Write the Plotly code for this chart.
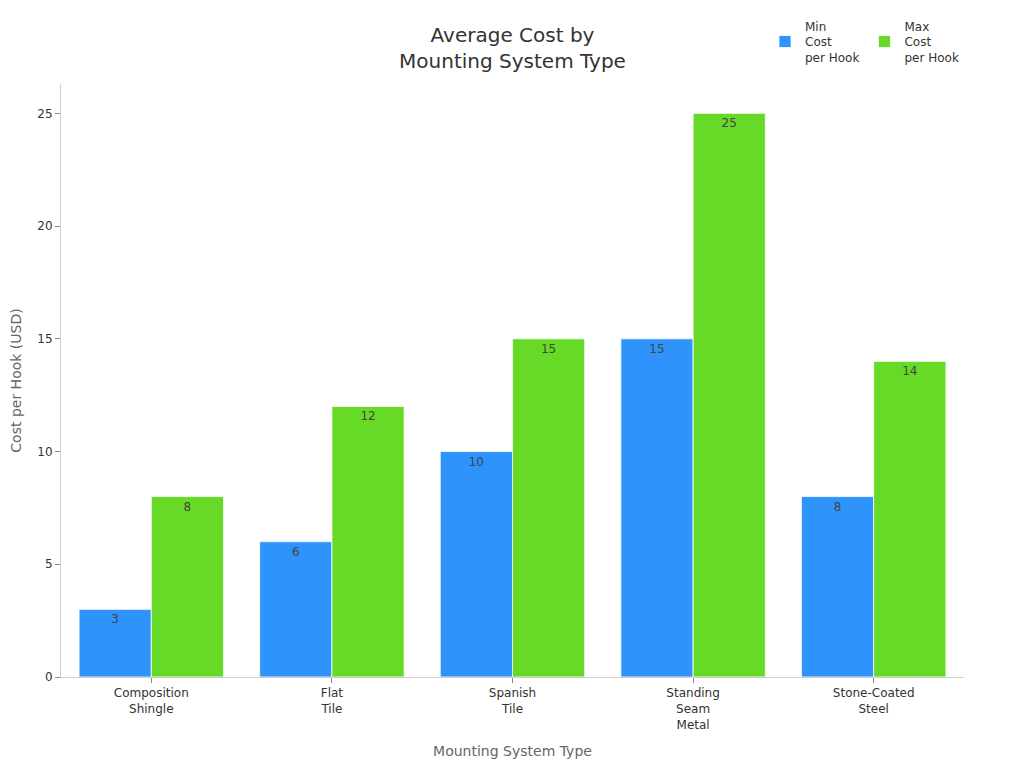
import plotly.graph_objects as go

categories = ["Composition<br>Shingle", "Flat<br>Tile", "Spanish<br>Tile", "Standing<br>Seam<br>Metal", "Stone-Coated<br>Steel"]
min_cost = [3, 6, 10, 15, 8]
max_cost = [8, 12, 15, 25, 14]
series_names = ["Min<br>Cost<br>per Hook", "Max<br>Cost<br>per Hook"]
colors = ["#2E93FA", "#66DA26"]

font_family = "DejaVu Sans, Verdana, sans-serif"

fig = go.Figure()
for name, vals, col in zip(series_names, [min_cost, max_cost], colors):
    fig.add_trace(go.Bar(
        x=categories, y=vals, name=name,
        marker=dict(color=col, line=dict(color="rgba(255,255,255,0.8)", width=1)),
        text=vals, textposition="inside", insidetextanchor="end", textangle=0,
        textfont=dict(size=12, color="#444444", family=font_family),
    ))

fig.update_layout(
    width=1008, height=752,
    barmode="group", bargap=0.2, bargroupgap=0,
    paper_bgcolor="white", plot_bgcolor="white",
    font=dict(family=font_family, size=12, color="#333333"),
    margin=dict(l=53, r=52, t=76, b=83, autoexpand=False),
    title=dict(text="Average Cost by<br>Mounting System Type", x=0.5, xref="paper",
               xanchor="center", y=0.955, yref="container", yanchor="middle",
               font=dict(size=20, color="#333333")),
    legend=dict(orientation="h", x=1, xanchor="right", y=1.122, yanchor="top",
                font=dict(size=12, color="#333333"), bgcolor="rgba(0,0,0,0)"),
    xaxis=dict(title=dict(text="Mounting System Type", font=dict(size=14, color="#666666"), standoff=15),
               automargin=False,
               showline=True, linecolor="#d0d0d0", linewidth=1,
               ticks="outside", tickcolor="#888888", ticklen=5,
               tickfont=dict(size=12, color="#333333"), showgrid=False),
    yaxis=dict(title=dict(text="Cost per Hook (USD)", font=dict(size=14, color="#666666"), standoff=21),
               automargin=True,
               range=[0, 26.3], tickvals=[0, 5, 10, 15, 20, 25],
               showline=True, linecolor="#d0d0d0", linewidth=1,
               ticks="outside", tickcolor="#888888", ticklen=5,
               tickfont=dict(size=12, color="#333333"), showgrid=False, zeroline=False),
)

fig.write_html("out.html")
